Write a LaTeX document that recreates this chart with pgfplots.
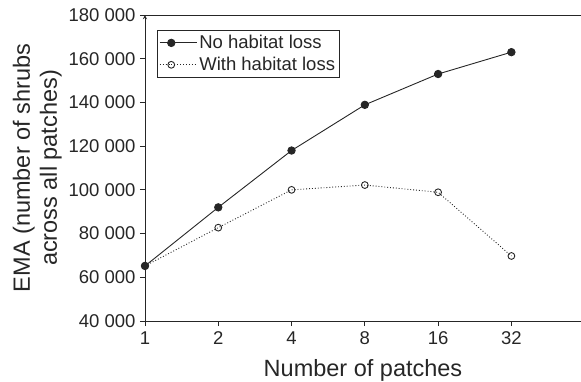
\documentclass[border=0pt]{standalone}
\usepackage{fontspec}
\setmainfont{Liberation Sans}
\usepackage{pgfplots}
\pgfplotsset{compat=1.18}
\begin{document}
\begin{tikzpicture}
\useasboundingbox (-145pt,-60pt) rectangle (436pt,321pt);
\begin{axis}[
  scale only axis,
  width=436pt, height=306pt,
  xmin=0, xmax=5.95,
  ymin=40000, ymax=180000,
  axis x line=box, axis y line=left,
  xtick pos=bottom, ytick pos=left,
  axis line style={line width=0.9pt, draw=black!85},
  tick style={line width=0.9pt, draw=black!85},
  tick align=outside,
  major tick length=5pt,
  scaled y ticks=false,
  xtick={0,1,2,3,4,5},
  xticklabels={1,2,4,8,16,32},
  ytick={40000,60000,80000,100000,120000,140000,160000,180000},
  yticklabels={40 000,60 000,80 000,100 000,120 000,140 000,160 000,180 000},
  /pgf/number format/assume math mode=true,
  ticklabel style={font=\fontsize{18.5}{21}\selectfont, text=black!85},
  yticklabel style={xshift=-1pt},
  xticklabel style={yshift=-2pt},
  xlabel={Number of patches},
  ylabel={EMA (number of shrubs\\across all patches)},
  ylabel style={align=center, font=\fontsize{23.5}{27}\selectfont, text=black!85},
  xlabel style={font=\fontsize{23.5}{27}\selectfont, text=black!85, yshift=-7.5pt},
  clip=false,
  legend style={at={(0.0275,0.951)}, anchor=north west, draw=black!85, line width=0.9pt,
    font=\fontsize{18.5}{21}\selectfont, text=black!85, inner xsep=2pt, inner ysep=3pt,
    row sep=3pt, cells={anchor=west}},
  legend cell align=left,
  legend image code/.code={
    \path (0cm,0cm) -- (1.3cm,0cm);
    \draw[mark repeat=2,mark phase=2] plot coordinates {(0cm,0cm)(0.4cm,0cm)(0.8cm,0cm)};},
]
\addplot[black!85, line width=0.9pt, mark=*, mark size=3.7pt, mark options={solid, fill=black!85, draw=black!85}]
  coordinates {(0,65200) (1,92000) (2,118000) (3,138900) (4,153000) (5,163000)};
\addlegendentry{No habitat loss}
\addplot[black!85, line width=0.9pt, dotted, mark=o, mark size=3.4pt, mark options={solid, fill=white, draw=black!85, line width=0.9pt}]
  coordinates {(0,65200) (1,82700) (2,100000) (3,102200) (4,98900) (5,69750)};
\addlegendentry{With habitat loss}
\end{axis}
\end{tikzpicture}
\end{document}
